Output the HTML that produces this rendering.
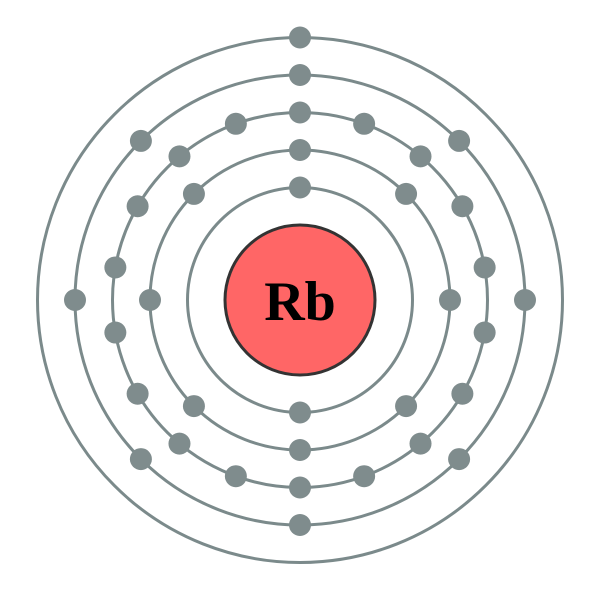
<!DOCTYPE html>
<html><head><meta charset="utf-8"><style>html,body{margin:0;padding:0;background:#fff}</style></head>
<body>
<svg width="600" height="600" viewBox="0 0 600 600" xmlns="http://www.w3.org/2000/svg">
<g fill="none" stroke="#7b8a8b" stroke-width="3">
<circle cx="300" cy="300" r="112.5"/>
<circle cx="300" cy="300" r="150"/>
<circle cx="300" cy="300" r="187.5"/>
<circle cx="300" cy="300" r="225"/>
<circle cx="300" cy="300" r="262.5"/>
</g>
<g fill="#7f8c8d">
<circle cx="300" cy="187.5" r="11"/><circle cx="300" cy="412.5" r="11"/>
<circle cx="300" cy="150" r="11"/><circle cx="406.07" cy="193.93" r="11"/><circle cx="450" cy="300" r="11"/><circle cx="406.07" cy="406.07" r="11"/><circle cx="300" cy="450" r="11"/><circle cx="193.93" cy="406.07" r="11"/><circle cx="150" cy="300" r="11"/><circle cx="193.93" cy="193.93" r="11"/>
<circle cx="300" cy="112.5" r="11"/><circle cx="364.13" cy="123.81" r="11"/><circle cx="420.52" cy="156.37" r="11"/><circle cx="462.38" cy="206.25" r="11"/><circle cx="484.65" cy="267.44" r="11"/><circle cx="484.65" cy="332.56" r="11"/><circle cx="462.38" cy="393.75" r="11"/><circle cx="420.52" cy="443.63" r="11"/><circle cx="364.13" cy="476.19" r="11"/><circle cx="300" cy="487.5" r="11"/><circle cx="235.87" cy="476.19" r="11"/><circle cx="179.48" cy="443.63" r="11"/><circle cx="137.62" cy="393.75" r="11"/><circle cx="115.35" cy="332.56" r="11"/><circle cx="115.35" cy="267.44" r="11"/><circle cx="137.62" cy="206.25" r="11"/><circle cx="179.48" cy="156.37" r="11"/><circle cx="235.87" cy="123.81" r="11"/>
<circle cx="300" cy="75" r="11"/><circle cx="459.1" cy="140.9" r="11"/><circle cx="525" cy="300" r="11"/><circle cx="459.1" cy="459.1" r="11"/><circle cx="300" cy="525" r="11"/><circle cx="140.9" cy="459.1" r="11"/><circle cx="75" cy="300" r="11"/><circle cx="140.9" cy="140.9" r="11"/>
<circle cx="300" cy="37.5" r="11"/>
</g>
<circle cx="300" cy="300" r="75" fill="#ff6666" stroke="#333" stroke-width="3"/>
<text x="300" y="320" text-anchor="middle" font-family="Liberation Serif, serif" font-weight="bold" font-size="56" fill="#000">Rb</text>
</svg>
</body></html>
